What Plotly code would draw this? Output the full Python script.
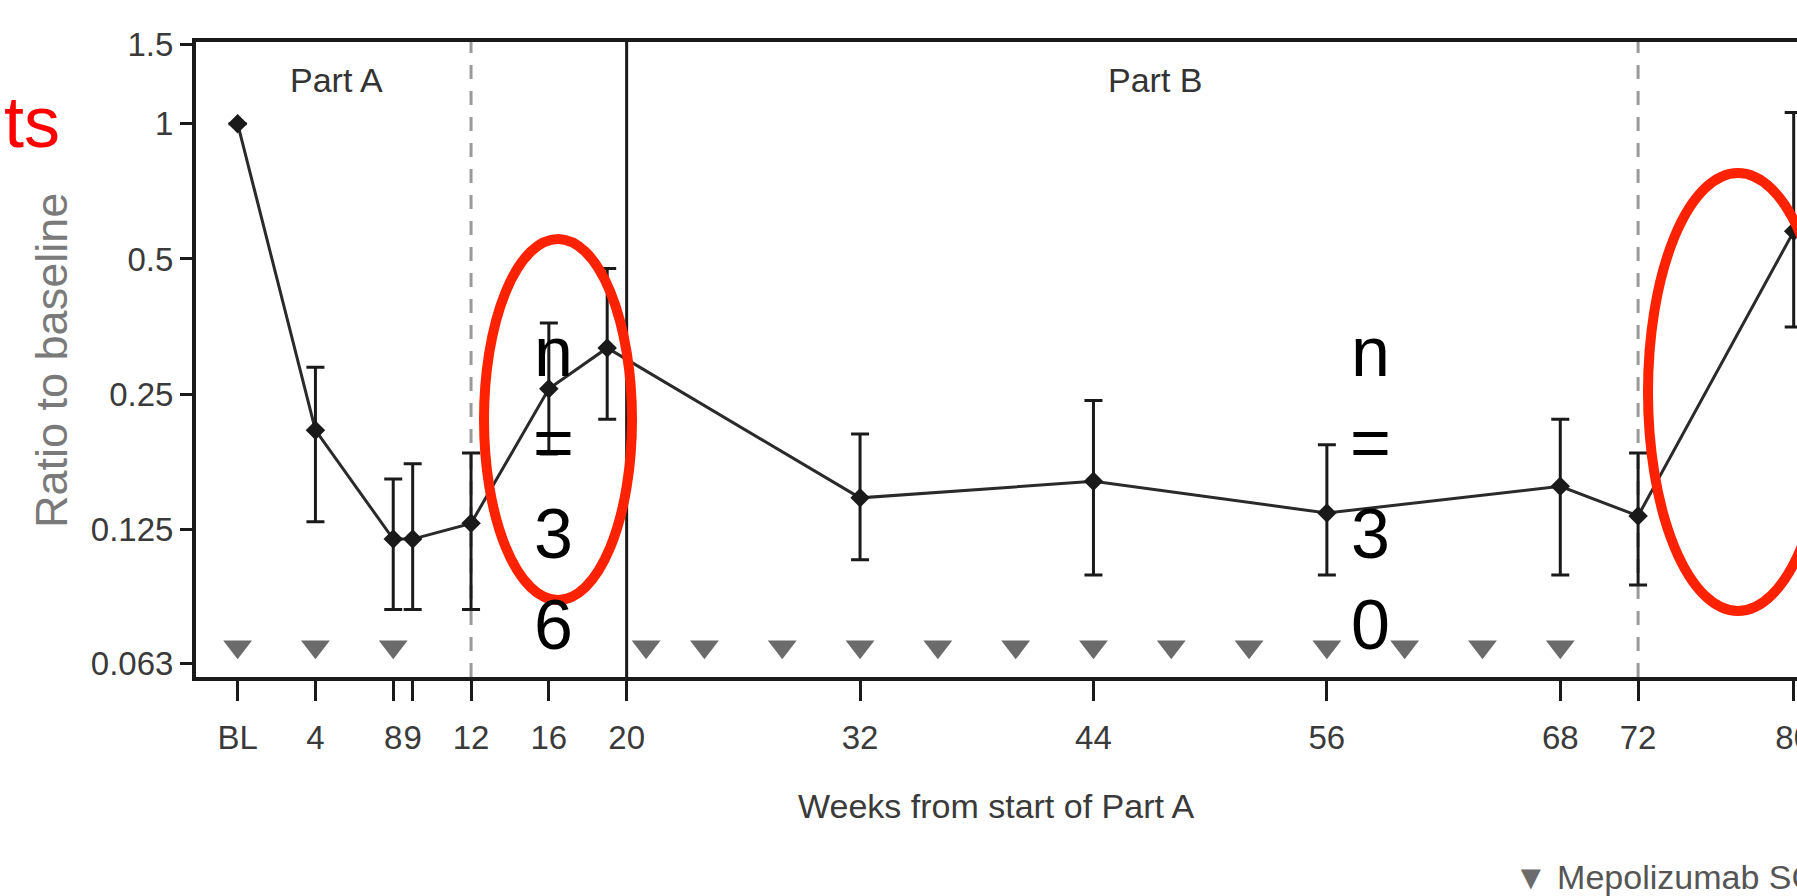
import math
import plotly.graph_objects as go

# ---------------- data ----------------
weeks = [0, 4, 8, 9, 12, 16, 19, 32, 44, 56, 68, 72, 80]
ratio = [1.0, 0.208, 0.119, 0.119, 0.129, 0.257, 0.317, 0.147, 0.160, 0.136, 0.156, 0.134, 0.576]
ci_upper = [None, 0.287, 0.162, 0.175, 0.185, 0.360, 0.476, 0.204, 0.242, 0.193, 0.220, 0.185, 1.059]
ci_lower = [None, 0.130, 0.083, 0.083, 0.083, 0.184, 0.220, 0.107, 0.099, 0.099, 0.099, 0.094, 0.353]

dose_weeks = [0, 4, 8, 21, 24, 28, 32, 36, 40, 44, 48, 52, 56, 60, 64, 68]
dose_level = 0.0685

x_tick_vals = [0, 4, 8, 9, 12, 16, 20, 32, 44, 56, 68, 72, 80]
x_tick_text = ["BL", "4", "8", "9", "12", "16", "20", "32", "44", "56", "68", "72", "80"]
y_tick_vals = [1.5, 1, 0.5, 0.25, 0.125, 0.063]
y_tick_text = ["1.5", "1", "0.5", "0.25", "0.125", "0.063"]

part_a_end = 12
part_b_start = 20
part_b_mark = 72

# ---------------- layout geometry ----------------
W, H = 1797, 896
ML, MR, MT, MB = 196, 0, 42, 219
X_RANGE = [-2.14, 80.17]
Y_RANGE = [math.log10(0.0587), math.log10(1.52)]


def paper_x(px):
    return (px - ML) / (W - ML - MR)


def paper_y(py):
    return (H - MB - py) / (H - MT - MB)


FONT = "Liberation Sans, Arial, sans-serif"

err_plus = [(u - r) if u is not None else None for u, r in zip(ci_upper, ratio)]
err_minus = [(r - l) if l is not None else None for l, r in zip(ci_lower, ratio)]

fig = go.Figure()

fig.add_trace(go.Scatter(
    x=weeks, y=ratio, mode="lines+markers",
    line=dict(color="#2a2a2a", width=3),
    marker=dict(symbol="diamond", size=15, color="#1a1a1a"),
    error_y=dict(type="data", symmetric=False, array=err_plus, arrayminus=err_minus,
                 color="#1a1a1a", thickness=3, width=9),
    showlegend=False, cliponaxis=False,
))

fig.add_trace(go.Scatter(
    x=dose_weeks, y=[dose_level] * len(dose_weeks), mode="markers",
    marker=dict(symbol="triangle-down", size=25, color="#6b6b6b"),
    name="Mepolizumab SC", showlegend=False,
))

shapes = []
# reference line at ratio 1
shapes.append(dict(type="line", xref="paper", x0=0, x1=1, yref="y",
                   y0=math.log10(1), y1=math.log10(1),
                   line=dict(color="#b8b8b8", width=6), layer="below"))
# dashed verticals
for wk in (part_a_end, part_b_mark):
    shapes.append(dict(type="line", xref="x", x0=wk, x1=wk, yref="paper", y0=0, y1=1,
                       line=dict(color="#9a9a9a", width=3, dash="14px,12px"), layer="below"))
# solid Part A / Part B divider
shapes.append(dict(type="line", xref="x", x0=part_b_start, x1=part_b_start, yref="paper", y0=0, y1=1,
                   line=dict(color="#1a1a1a", width=3), layer="below"))
# red highlight ellipses
shapes.append(dict(type="circle", xref="paper", yref="paper",
                   x0=paper_x(484), x1=paper_x(632), y0=paper_y(600), y1=paper_y(239),
                   line=dict(color="#ff2200", width=10), layer="above"))
shapes.append(dict(type="circle", xref="paper", yref="paper",
                   x0=paper_x(1648), x1=paper_x(1828), y0=paper_y(611), y1=paper_y(173),
                   line=dict(color="#ff2200", width=10), layer="above"))


def note(text, px, py, size, color, xanchor="center", angle=0):
    return dict(text=text, xref="paper", yref="paper", x=paper_x(px), y=paper_y(py),
                xanchor=xanchor, yanchor="middle", textangle=angle, showarrow=False,
                font=dict(family=FONT, size=size, color=color))


annotations = [
    note("Part A", 336, 80, 34, "#333333"),
    note("Part B", 1155, 80, 34, "#333333"),
    note("Weeks from start of Part A", 996, 806, 34, "#3a3a3a"),
    note("Ratio to baseline", 52, 361, 45, "#7a7a7a", angle=-90),
    note("n<br>=<br>3<br>6", 553, 488, 70, "#000000"),
    note("n<br>=<br>3<br>0", 1370, 488, 70, "#000000"),
    note("ts", 62, 122, 72, "#ff0000", xanchor="right"),
    note("<span style='color:#6b6b6b'>▼</span> Mepolizumab SC", 1512, 877, 34, "#555555",
         xanchor="left"),
]

fig.update_layout(
    width=W, height=H,
    margin=dict(l=ML, r=MR, t=MT, b=MB, pad=0, autoexpand=False),
    paper_bgcolor="white", plot_bgcolor="white",
    shapes=shapes, annotations=annotations,
    showlegend=False,
    xaxis=dict(range=X_RANGE, tickmode="array", tickvals=x_tick_vals, ticktext=x_tick_text,
               tickangle=0, ticks="outside", ticklen=20, tickwidth=3, tickcolor="#1a1a1a",
               ticklabelstandoff=8, ticklabeloverflow="allow", automargin=False,
               showline=True, linewidth=4, linecolor="#1a1a1a", mirror=True,
               showgrid=False, zeroline=False,
               tickfont=dict(family=FONT, size=33, color="#3a3a3a")),
    yaxis=dict(type="log", range=Y_RANGE, tickmode="array", tickvals=y_tick_vals, ticktext=y_tick_text,
               ticks="outside", ticklen=12, tickwidth=3, tickcolor="#1a1a1a", automargin=False,
               showline=True, linewidth=4, linecolor="#1a1a1a",
               showgrid=False, zeroline=False,
               tickfont=dict(family=FONT, size=33, color="#3a3a3a")),
)

fig.write_html("out.html")
